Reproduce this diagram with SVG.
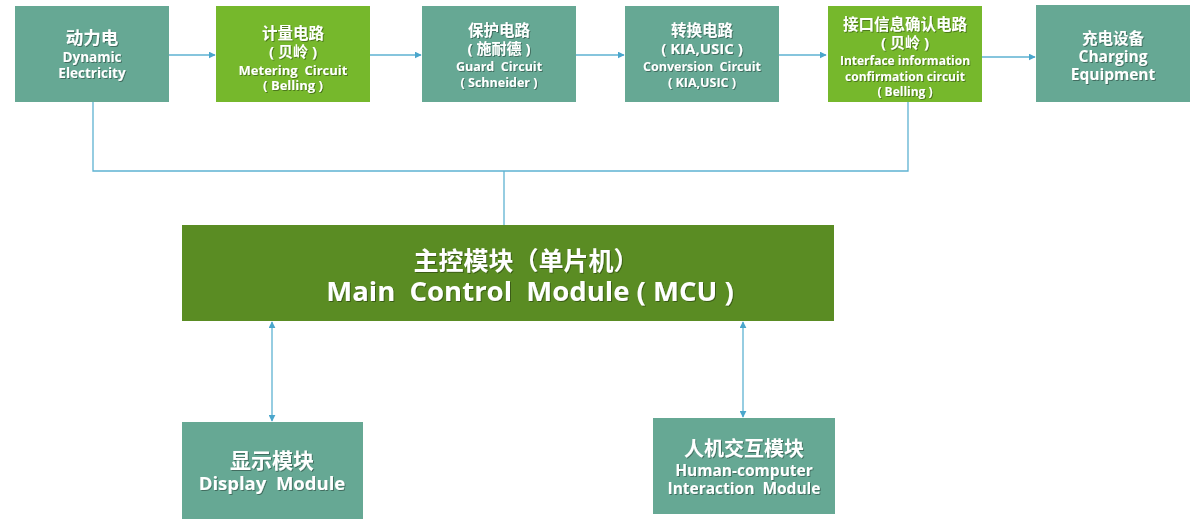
<svg xmlns="http://www.w3.org/2000/svg" width="1192" height="522" viewBox="0 0 1192 522">
<defs>
<style>
.teal{fill:#66a894}
.lg{fill:#76b82c}
.dg{fill:#5a8c23}
text{fill:#fff;font-family:"Open Sans","Noto Sans CJK SC",sans-serif;font-weight:700;text-anchor:middle;white-space:pre;filter:url(#sh)}
text.k{font-family:"Noto Sans CJK SC","Open Sans",sans-serif}
.c{stroke:#5eb2d2;stroke-width:1.3;fill:none}
</style>
<filter id="sh" x="-10%" y="-30%" width="120%" height="160%">
<feDropShadow dx="1" dy="1" stdDeviation="0.6" flood-color="#000" flood-opacity="0.35"/>
</filter>
<marker id="ah" viewBox="0 0 10 10" refX="9" refY="5" markerWidth="7" markerHeight="7" orient="auto-start-reverse" markerUnits="userSpaceOnUse">
<path d="M0,0 L10,5 L0,10 z" fill="#4aa6cc"/>
</marker>
</defs>
<g id="connectors">
<line class="c" x1="169" y1="55" x2="215" y2="55" marker-end="url(#ah)"/>
<line class="c" x1="370" y1="55" x2="421" y2="55" marker-end="url(#ah)"/>
<line class="c" x1="576" y1="55" x2="624" y2="55" marker-end="url(#ah)"/>
<line class="c" x1="779" y1="55" x2="826" y2="55" marker-end="url(#ah)"/>
<line class="c" x1="982" y1="57" x2="1035" y2="57" marker-end="url(#ah)"/>
<polyline class="c" points="93,102 93,171 908,171 908,102"/>
<line class="c" x1="504" y1="171" x2="504" y2="225"/>
<line class="c" x1="272" y1="322" x2="272" y2="421" marker-start="url(#ah)" marker-end="url(#ah)"/>
<line class="c" x1="743" y1="322" x2="743" y2="417" marker-start="url(#ah)" marker-end="url(#ah)"/>
</g>
<g id="n1"><rect class="teal" x="15" y="6" width="154" height="96"/>
<text class="k" x="92" y="44" font-size="17.5">动力电</text>
<text x="92" y="62" font-size="13.5">Dynamic</text>
<text x="92" y="78" font-size="13.5">Electricity</text></g>
<g id="n2"><rect class="lg" x="216" y="6" width="154" height="96"/>
<text class="k" x="293" y="39" font-size="15.5">计量电路</text>
<text x="293" y="57" font-size="15">( 贝岭 )</text>
<text x="293" y="75" font-size="13">Metering  Circuit</text>
<text x="293" y="90" font-size="13">( Belling )</text></g>
<g id="n3"><rect class="teal" x="422" y="6" width="154" height="96"/>
<text class="k" x="499" y="36" font-size="15.5">保护电路</text>
<text x="499" y="54" font-size="15">( 施耐德 )</text>
<text x="499" y="71" font-size="12.5">Guard  Circuit</text>
<text x="499" y="87" font-size="12.5">( Schneider )</text></g>
<g id="n4"><rect class="teal" x="625" y="6" width="154" height="96"/>
<text class="k" x="702" y="36" font-size="15.5">转换电路</text>
<text x="702" y="54" font-size="15">( KIA,USIC )</text>
<text x="702" y="71" font-size="12.5">Conversion  Circuit</text>
<text x="702" y="87" font-size="12.5">( KIA,USIC )</text></g>
<g id="n5"><rect class="lg" x="828" y="6" width="154" height="96"/>
<text class="k" x="905" y="30" font-size="15.5">接口信息确认电路</text>
<text x="905" y="48" font-size="15">( 贝岭 )</text>
<text x="905" y="65" font-size="12">Interface information</text>
<text x="905" y="81" font-size="12">confirmation circuit</text>
<text x="905" y="96" font-size="12">( Belling )</text></g>
<g id="n6"><rect class="teal" x="1036" y="5" width="154" height="97"/>
<text class="k" x="1113" y="44" font-size="15.5">充电设备</text>
<text x="1113" y="62" font-size="15.5">Charging</text>
<text x="1113" y="80" font-size="15.5">Equipment</text></g>
<g id="main"><rect class="dg" x="182" y="225" width="652" height="96"/>
<text class="k" x="526" y="270" font-size="25">主控模块（单片机）</text>
<text x="530" y="301" font-size="27.5">Main  Control  Module ( MCU )</text></g>
<g id="display"><rect class="teal" x="182" y="422" width="181" height="97"/>
<text class="k" x="272" y="468" font-size="21">显示模块</text>
<text x="272" y="490" font-size="18.5">Display  Module</text></g>
<g id="hci"><rect class="teal" x="653" y="418" width="182" height="96"/>
<text class="k" x="744" y="456" font-size="20">人机交互模块</text>
<text x="744" y="476" font-size="15.5">Human-computer</text>
<text x="744" y="494" font-size="15.5">Interaction  Module</text></g>
</svg>
